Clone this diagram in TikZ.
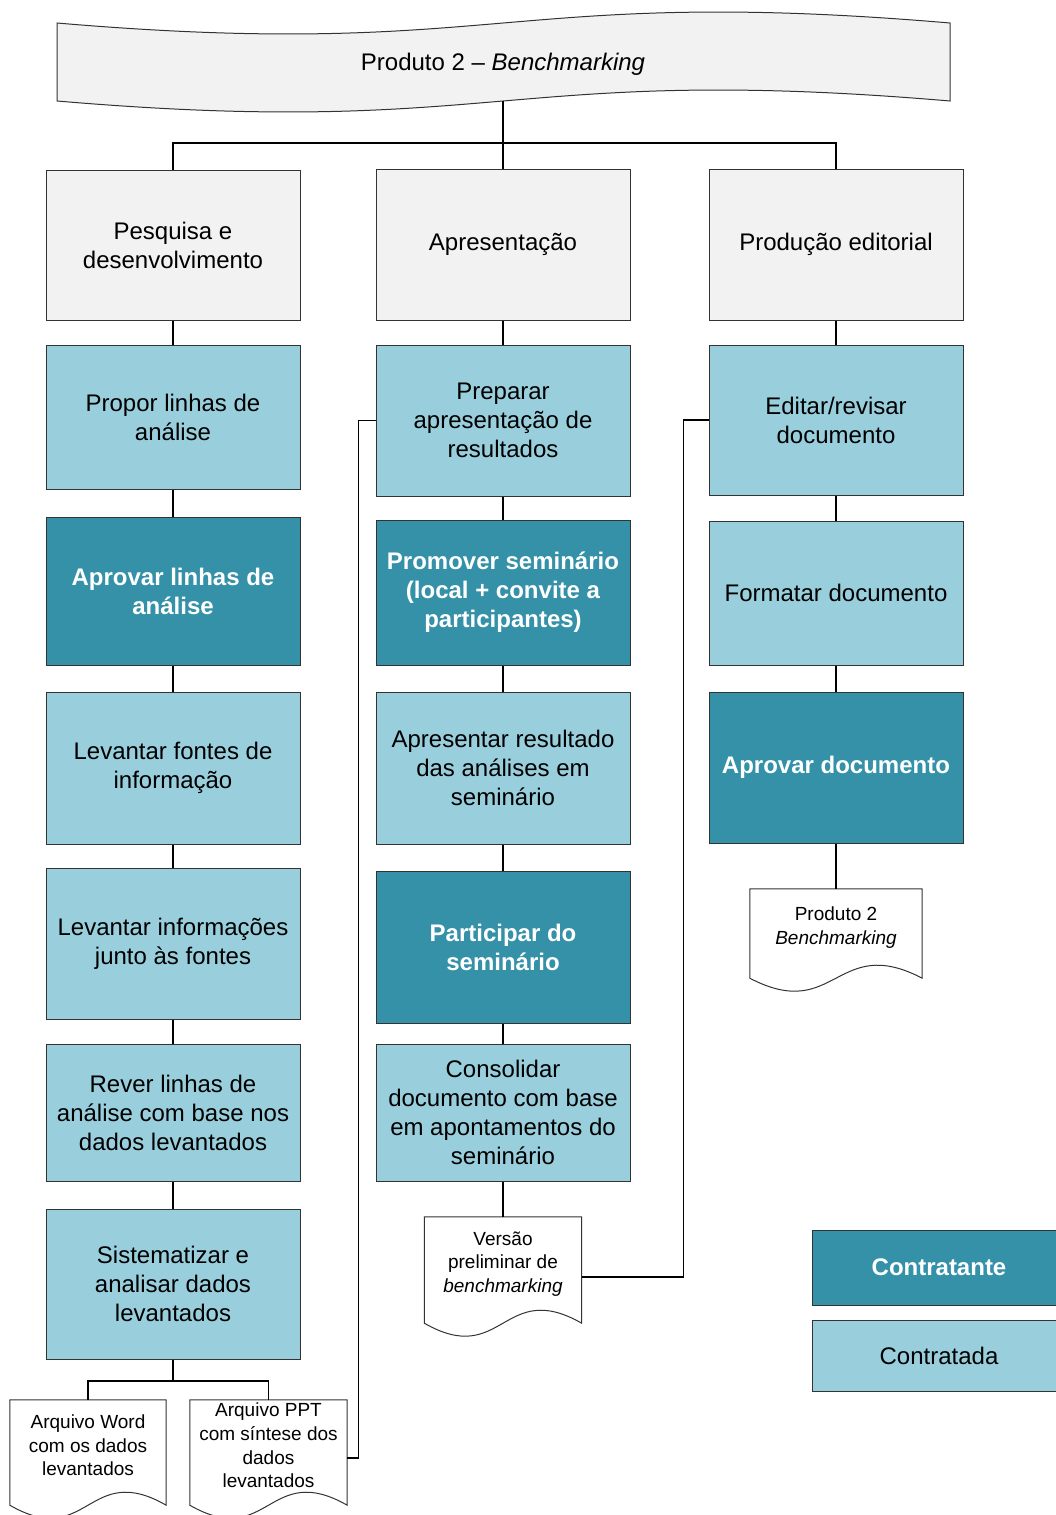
\documentclass[tikz,border=0pt]{standalone}
\usepackage{fontspec}
\setmainfont{Liberation Sans}
\usetikzlibrary{calc}

\definecolor{headgray}{HTML}{F2F2F2}
\definecolor{taskblue}{HTML}{99CFDD}
\definecolor{gateteal}{HTML}{3491A8}
\definecolor{edgegray}{HTML}{333333}

\tikzset{
  box/.style={draw=edgegray, line width=1pt, minimum width=254pt, inner sep=0pt,
    align=center, font=\fontsize{24}{29}\selectfont},
  headbox/.style={box, fill=headgray},
  taskbox/.style={box, fill=taskblue},
  gatebox/.style={box, fill=gateteal, text=white, font=\fontsize{24}{29}\selectfont\bfseries},
  link/.style={draw=black, line width=1.2pt},
  docarea/.style={inner sep=0pt},
  docline/.style={draw=edgegray, line width=1pt},
  doctext/.style={align=center, inner sep=0pt, font=\fontsize{19}{23.6}\selectfont},
}

% outline of a document symbol: straight top and sides, wavy bottom
\newcommand\docpath[1]{%
  \draw[docline] (#1.south west) -- (#1.north west) -- (#1.north east) -- (#1.south east)
    .. controls ($(#1.south)+(0,-45)$) and ($(#1.south)+(0,45)$) .. (#1.south west) -- cycle;}

\begin{document}
\begin{tikzpicture}[x=1pt,y=-1pt]
\useasboundingbox (0,0) rectangle (1056,1515);
\clip (0,0) rectangle (1056,1515);

% title banner
\filldraw[fill=headgray, draw=edgegray, line width=1pt]
  (57,23) .. controls (503,61) and (503,-15) .. (950,23) -- (950,101)
  .. controls (503,63) and (503,139) .. (57,101) -- cycle;
\node[minimum width=893pt, minimum height=78pt, inner sep=0pt,
  font=\fontsize{24}{29}\selectfont] (banner) at (503,62) {};
\node[inner sep=0pt, font=\fontsize{24}{29}\selectfont] (title) at (503,64)
  {Produto 2 -- \textit{Benchmarking}};

% column heads
\node[headbox, minimum height=150pt] (pd) at (173,245) {Pesquisa e\\desenvolvimento};
\node[headbox, minimum height=151pt] (ap) at (503,244.5) {Apresentação};
\node[headbox, minimum height=151pt] (pe) at (836,244.5) {Produção editorial};

% left column
\node[taskbox, minimum height=144pt] (propor) at (173,417) {Propor linhas de\\análise};
\node[gatebox, minimum height=148pt] (aprovL) at (173,591) {Aprovar linhas de\\análise};
\node[taskbox, minimum height=152pt] (fontes) at (173,768) {Levantar fontes de\\informação};
\node[taskbox, minimum height=151pt] (infos) at (173,943.5) {Levantar informações\\junto às fontes};
\node[taskbox, minimum height=137pt] (rever) at (173,1112.5) {Rever linhas de\\análise com base nos\\dados levantados};
\node[taskbox, minimum height=150pt] (sist) at (173,1284) {Sistematizar e\\analisar dados\\levantados};

% middle column
\node[taskbox, minimum height=151pt] (prep) at (503,420.5) {Preparar\\apresentação de\\resultados};
\node[gatebox, minimum height=145pt] (prom) at (503,592.5) {Promover seminário\\(local + convite a\\participantes)};
\node[taskbox, minimum height=152pt] (apres) at (503,768) {Apresentar resultado\\das análises em\\seminário};
\node[gatebox, minimum height=152pt] (part) at (503,947) {Participar do\\seminário};
\node[taskbox, minimum height=137pt] (cons) at (503,1112.5) {Consolidar\\documento com base\\em apontamentos do\\seminário};

% right column
\node[taskbox, minimum height=150pt] (edit) at (836,420) {Editar/revisar\\documento};
\node[taskbox, minimum height=144pt] (form) at (836,593) {Formatar documento};
\node[gatebox, minimum height=151pt] (aprovD) at (836,767.5) {Aprovar documento};

% documents
\node[docarea, minimum width=156pt, minimum height=105pt] (dWord) at (88,1452.5) {};
\node[docarea, minimum width=157pt, minimum height=105pt] (dPPT) at (268.5,1452.5) {};
\node[docarea, minimum width=157pt, minimum height=106pt] (dVer) at (503,1270) {};
\node[docarea, minimum width=172pt, minimum height=89pt] (dProd) at (836,933.5) {};
\docpath{dWord}
\docpath{dPPT}
\docpath{dVer}
\docpath{dProd}
\node[doctext] (tWord) at ($(dWord.center)+(0,-7)$) {Arquivo Word\\com os dados\\levantados};
\node[doctext] (tPPT) at ($(dPPT.center)+(0,-7)$) {Arquivo PPT\\com síntese dos\\dados\\levantados};
\node[doctext] (tVer) at ($(dVer.center)+(0,-6)$) {Versão\\preliminar de\\\textit{benchmarking}};
\node[doctext] (tProd) at ($(dProd.center)+(0,-6)$) {Produto 2\\\textit{Benchmarking}};

% legend
\node[gatebox, minimum height=75pt] (lgA) at (939,1267.5) {Contratante};
\node[taskbox, minimum height=71pt] (lgB) at (939,1355.5) {Contratada};

% connectors
\coordinate (hub) at (503,143);
\draw[link] (banner.south) -- (hub);
\draw[link] (pd.north) |- (hub) -| (pe.north);
\draw[link] (hub) -- (ap.north);

\draw[link] (pd.south) -- (propor.north);
\draw[link] (propor.south) -- (aprovL.north);
\draw[link] (aprovL.south) -- (fontes.north);
\draw[link] (fontes.south) -- (infos.north);
\draw[link] (infos.south) -- (rever.north);
\draw[link] (rever.south) -- (sist.north);
\coordinate (split) at (173,1381);
\draw[link] (sist.south) -- (split);
\draw[link] (dWord.north) |- (split) -| (dPPT.north);

\draw[link] (ap.south) -- (prep.north);
\draw[link] (prep.south) -- (prom.north);
\draw[link] (prom.south) -- (apres.north);
\draw[link] (apres.south) -- (part.north);
\draw[link] (part.south) -- (cons.north);
\draw[link] (cons.south) -- (dVer.north);

\draw[link] (pe.south) -- (edit.north);
\draw[link] (edit.south) -- (form.north);
\draw[link] (form.south) -- (aprovD.north);
\draw[link] (aprovD.south) -- (dProd.north);

% feedback lines
\draw[link] ($(dPPT.east)+(0,5.5)$) -- ++(11,0) |- (prep.west);
\draw[link] ($(dVer.east)+(0,7)$) -- ++(102,0) |- (edit.west);
\end{tikzpicture}
\end{document}
